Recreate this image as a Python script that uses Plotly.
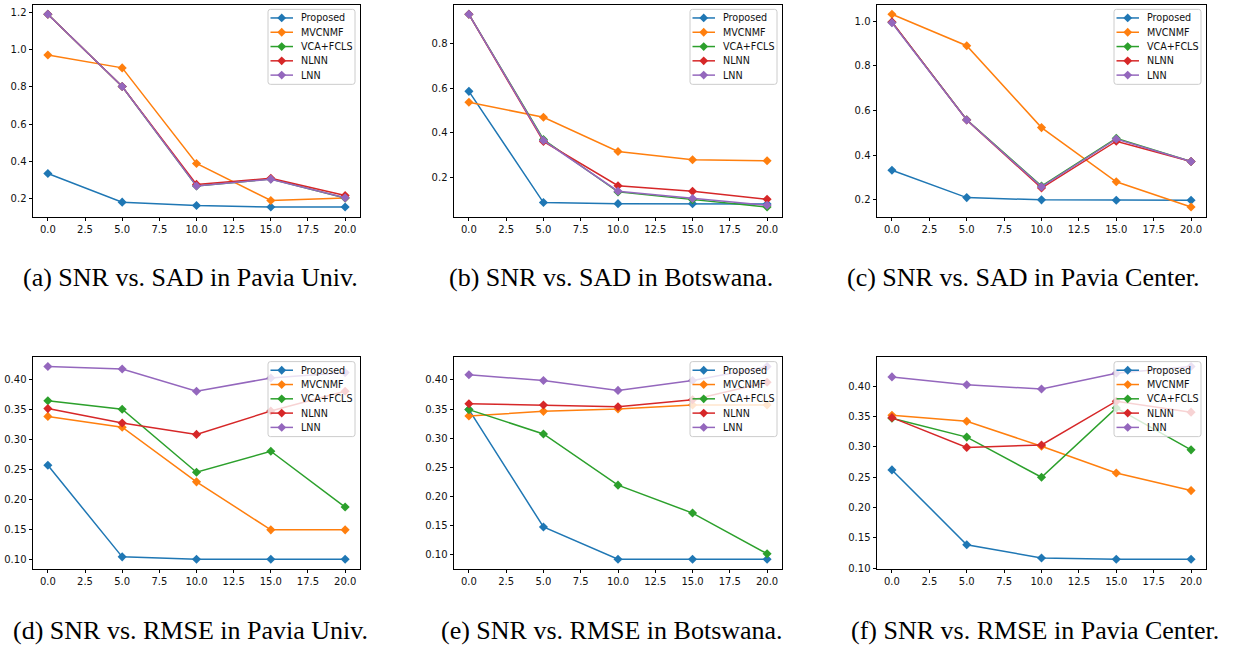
import plotly.graph_objects as go

W, H = 1237, 652

snr = [0, 5, 10, 15, 20]
methods = ["Proposed", "MVCNMF", "VCA+FCLS", "NLNN", "LNN"]
colors = ["#1f77b4", "#ff7f0e", "#2ca02c", "#d62728", "#9467bd"]
xtick_vals = [0, 2.5, 5, 7.5, 10, 12.5, 15, 17.5, 20]
xtick_text = ["0.0", "2.5", "5.0", "7.5", "10.0", "12.5", "15.0", "17.5", "20.0"]

# rows: Proposed, MVCNMF, VCA+FCLS, NLNN, LNN
sad_pavia_univ = [
    [0.335, 0.182, 0.164, 0.156, 0.156],
    [0.970, 0.901, 0.389, 0.191, 0.204],
    [1.188, 0.801, 0.268, 0.306, 0.204],
    [1.188, 0.801, 0.277, 0.310, 0.217],
    [1.188, 0.801, 0.268, 0.305, 0.205],
]
sad_botswana = [
    [0.586, 0.085, 0.080, 0.080, 0.078],
    [0.537, 0.469, 0.315, 0.278, 0.273],
    [0.933, 0.369, 0.133, 0.098, 0.065],
    [0.933, 0.360, 0.161, 0.136, 0.100],
    [0.933, 0.365, 0.136, 0.103, 0.073],
]
sad_pavia_center = [
    [0.332, 0.209, 0.199, 0.197, 0.197],
    [1.031, 0.890, 0.523, 0.280, 0.167],
    [0.995, 0.558, 0.261, 0.475, 0.371],
    [0.997, 0.557, 0.252, 0.462, 0.371],
    [0.993, 0.557, 0.257, 0.472, 0.371],
]
rmse_pavia_univ = [
    [0.2575, 0.105, 0.101, 0.101, 0.101],
    [0.339, 0.321, 0.230, 0.150, 0.150],
    [0.365, 0.351, 0.246, 0.281, 0.188],
    [0.352, 0.328, 0.309, 0.348, 0.381],
    [0.422, 0.418, 0.381, 0.403, 0.412],
]
rmse_botswana = [
    [0.349, 0.147, 0.0915, 0.0915, 0.0915],
    [0.338, 0.346, 0.350, 0.357, 0.357],
    [0.349, 0.307, 0.219, 0.171, 0.101],
    [0.359, 0.357, 0.354, 0.366, 0.396],
    [0.409, 0.399, 0.382, 0.399, 0.423],
]
rmse_pavia_center = [
    [0.262, 0.139, 0.117, 0.115, 0.115],
    [0.352, 0.342, 0.301, 0.257, 0.228],
    [0.347, 0.316, 0.250, 0.364, 0.295],
    [0.348, 0.299, 0.303, 0.375, 0.357],
    [0.415, 0.402, 0.395, 0.421, 0.432],
]

captions = [
    "(a) SNR vs. SAD in Pavia Univ.",
    "(b) SNR vs. SAD in Botswana.",
    "(c) SNR vs. SAD in Pavia Center.",
    "(d) SNR vs. RMSE in Pavia Univ.",
    "(e) SNR vs. RMSE in Botswana.",
    "(f) SNR vs. RMSE in Pavia Center.",
]

# layout (pixel boxes of the axes), y tick spacing, format, caption centre
panels = [
    (sad_pavia_univ, (33, 4.7, 360, 218.3), 0.2, ".1f", (190, 280)),
    (sad_botswana, (454, 4.7, 782, 218.3), 0.2, ".1f", (611, 280)),
    (sad_pavia_center, (877, 4.7, 1206, 218.3), 0.2, ".1f", (1023, 280)),
    (rmse_pavia_univ, (33, 359.7, 360, 573.3), 0.05, ".2f", (190, 635)),
    (rmse_botswana, (454, 359.7, 782, 573.3), 0.05, ".2f", (612, 635)),
    (rmse_pavia_center, (877, 359.7, 1206, 573.3), 0.05, ".2f", (1035, 635)),
]


def px(x):
    return x / W


def py(y):
    return 1 - y / H


fig = go.Figure()
shapes = []
annotations = []
tickfont = dict(family="DejaVu Sans", size=10, color="#111")

for i, (data, (x0, y0, x1, y1), dt, fmt, (cx, cy)) in enumerate(panels):
    n = "" if i == 0 else str(i + 1)
    xa, ya = "x" + n, "y" + n
    for k, series in enumerate(data):
        fig.add_trace(go.Scatter(
            x=snr, y=series, mode="lines+markers", name=methods[k],
            line=dict(color=colors[k], width=1.5),
            marker=dict(symbol="diamond", size=7, color=colors[k]),
            xaxis=xa, yaxis=ya, showlegend=False, cliponaxis=False,
        ))
    lo = min(min(s) for s in data)
    hi = max(max(s) for s in data)
    m = 0.05 * (hi - lo)
    common = dict(showline=True, linecolor="black", linewidth=1, mirror=True,
                  ticks="outside", ticklen=3.5, tickwidth=1, tickcolor="black",
                  showgrid=False, zeroline=False, tickfont=tickfont)
    fig.update_layout(**{
        "xaxis" + n: dict(domain=[px(x0), px(x1)], anchor=ya, range=[-1, 21],
                          tickvals=xtick_vals, ticktext=xtick_text, **common),
        "yaxis" + n: dict(domain=[py(y1), py(y0)], anchor=xa, range=[lo - m, hi + m],
                          tick0=0, dtick=dt, tickformat=fmt, **common),
    })

    # legend box (upper right inside axes)
    bw, bh = 87, 75
    bx1 = x1 - 5
    bx0 = bx1 - bw
    by0 = y0 + 5
    r = 2.5
    hw, hh = bw / 2, bh / 2
    path = (f"M {-hw + r},{-hh} L {hw - r},{-hh} Q {hw},{-hh} {hw},{-hh + r} "
            f"L {hw},{hh - r} Q {hw},{hh} {hw - r},{hh} L {-hw + r},{hh} "
            f"Q {-hw},{hh} {-hw},{hh - r} L {-hw},{-hh + r} Q {-hw},{-hh} {-hw + r},{-hh} Z")
    shapes.append(dict(type="path", xref="paper", yref="paper", xsizemode="pixel",
                       ysizemode="pixel", xanchor=px(bx0 + hw), yanchor=py(by0 + hh),
                       path=path, fillcolor="rgba(255,255,255,0.8)",
                       line=dict(color="#cccccc", width=1), layer="above"))
    for k, name in enumerate(methods):
        yc = by0 + 8.4 + 14.4 * k
        shapes.append(dict(type="line", xref="paper", yref="paper",
                           x0=px(bx0 + 2.5), x1=px(bx0 + 25), y0=py(yc), y1=py(yc),
                           line=dict(color=colors[k], width=1.5), layer="above"))
        d = 4.4
        shapes.append(dict(type="path", xref="paper", yref="paper", xsizemode="pixel",
                           ysizemode="pixel", xanchor=px(bx0 + 13.7), yanchor=py(yc),
                           path=f"M 0,{d} L {d},0 L 0,{-d} L {-d},0 Z",
                           fillcolor=colors[k], line=dict(width=0), layer="above"))
        annotations.append(dict(xref="paper", yref="paper", x=px(bx0 + 31), y=py(yc),
                                xanchor="left", yanchor="middle", text=name, showarrow=False,
                                font=dict(family="DejaVu Sans", size=9.6, color="#111")))

    annotations.append(dict(xref="paper", yref="paper", x=px(cx), y=py(cy),
                            xanchor="center", yanchor="middle", text=captions[i],
                            showarrow=False,
                            font=dict(family="Liberation Serif", size=26, color="black")))

fig.update_layout(width=W, height=H, autosize=False,
                  margin=dict(l=0, r=0, t=0, b=0, pad=0),
                  paper_bgcolor="white", plot_bgcolor="white",
                  shapes=shapes, annotations=annotations, showlegend=False)

fig.write_html("out.html")
